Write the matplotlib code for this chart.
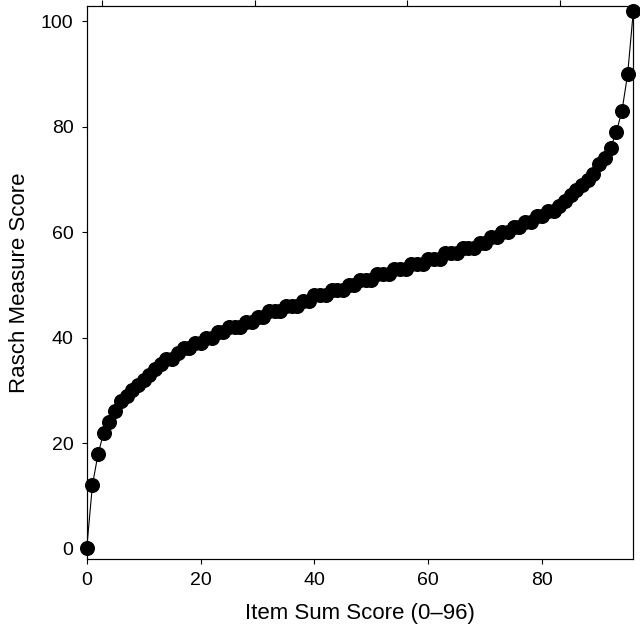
import numpy as np
import matplotlib
matplotlib.use("Agg")
import matplotlib.pyplot as plt

# -------- Data -------- #
sum_score = list(range(0, 97))
rasch_score = [
    0, 12, 18, 22, 24, 26, 28, 29, 30, 31,
    32, 33, 34, 35, 36, 36, 37, 38, 38, 39,
    39, 40, 40, 41, 41, 42, 42, 42, 43, 43,
    44, 44, 45, 45, 45, 46, 46, 46, 47, 47,
    48, 48, 48, 49, 49, 49, 50, 50, 51, 51,
    51, 52, 52, 52, 53, 53, 53, 54, 54, 54,
    55, 55, 55, 56, 56, 56, 57, 57, 57, 58,
    58, 59, 59, 60, 60, 61, 61, 62, 62, 63,
    63, 64, 64, 65, 66, 67, 68, 69, 70, 71,
    73, 74, 76, 79, 83, 90, 102,
]
x_ticks = [0, 20, 40, 60, 80]
y_ticks = [0, 20, 40, 60, 80, 100]
top_ticks = [2.7, 29.5, 56.3, 83.1]

plt.rcParams['font.family'] = ['Liberation Sans', 'DejaVu Sans']

# -------- Plot -------- #
fig = plt.figure(figsize=(6.4, 6.34), dpi=100)
ax = fig.add_axes([0.1355, 0.1183, 0.8541, 0.8729])

ax.plot(sum_score, rasch_score, color='black', linewidth=0.8,
        marker='o', markersize=9.8, clip_on=False, zorder=3)

ax.set_xlim(0, 96)
ax.set_ylim(-2, 103)
ax.set_xticks(x_ticks)
ax.set_yticks(y_ticks)
ax.tick_params(direction='out', length=3.5, width=0.8, labelsize=14, pad=6)

ax.set_xlabel("Item Sum Score (0\u201396)", fontsize=16, labelpad=10)
ax.set_ylabel("Rasch Measure Score", fontsize=16, labelpad=8)

for sp in ax.spines.values():
    sp.set_linewidth(0.8)
    sp.set_color('#222222')

# top ticks (secondary scale, unlabeled)
ax_top = ax.twiny()
ax_top.set_xlim(ax.get_xlim())
ax_top.set_xticks(top_ticks)
ax_top.set_xticklabels([])
ax_top.tick_params(direction='out', length=4, width=0.8)

fig.savefig("out.png", dpi=100)
